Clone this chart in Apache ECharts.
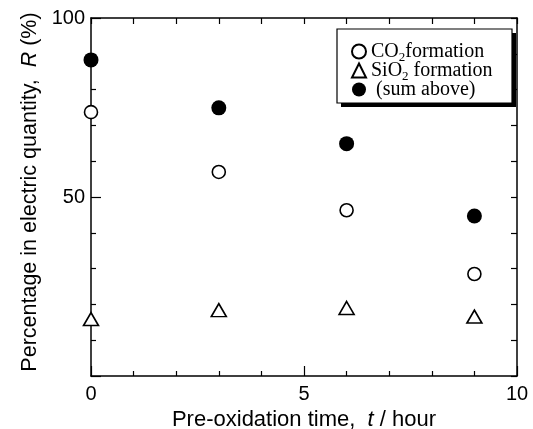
<!DOCTYPE html>
<html>
<head>
<meta charset="utf-8">
<script src="https://cdn.jsdelivr.net/npm/echarts@6/dist/echarts.min.js"></script>
<style>
  html, body { margin: 0; padding: 0; background: #fff; }
  #chart { width: 533px; height: 429px; }
</style>
</head>
<body>
<div id="chart"></div>
<script>
// pre-oxidation time (hour)
var times = [0, 3, 6, 9];
// percentage in electric quantity R (%)
var co2Values = [73.7, 57.0, 46.3, 28.5];
var sio2Values = [15.9, 18.4, 19.0, 16.6];
var sumValues = [88.3, 74.9, 64.9, 44.7];

var legendNames = ['CO2 formation', 'SiO2 formation', '(sum above)'];
var xLabels = ['0', '5', '10'];
var yLabels = ['50', '100'];

function pairs(xs, ys) {
    return xs.map(function (x, i) { return [x, ys[i]]; });
}

var chart = echarts.init(document.getElementById('chart'));
var sansFont = '"Liberation Sans", Arial, sans-serif';
var serifFont = '"Liberation Serif", "Times New Roman", serif';

var option = {
    animation: false,
    backgroundColor: '#fff',
    grid: { left: 91, right: 16, top: 18, bottom: 53, outerBoundsMode: 'none', containLabel: false },
    // legend frame with its drop shadow
    graphic: [{
        type: 'rect', z: 10,
        shape: { x: 341, y: 33, width: 175, height: 74 },
        style: { fill: '#000' }
    }, {
        type: 'rect', z: 11,
        shape: { x: 337, y: 29, width: 175, height: 74 },
        style: { fill: '#fff', stroke: '#000', lineWidth: 1.2 }
    }],
    legend: {
        orient: 'vertical',
        left: 351,
        top: 39,
        z: 20,
        data: legendNames,
        itemWidth: 14,
        itemHeight: 14,
        itemGap: -6,
        padding: 0,
        formatter: function (name) {
            // every row carries a sub token so all rows get the same height
            if (name === legendNames[0]) return '{t|CO}{sub|2}{t|formation}';
            if (name === legendNames[1]) return '{t|SiO}{sub|2}{t| formation}';
            return '{t| (sum above)}{sub| }';
        },
        textStyle: {
            fontFamily: serifFont,
            fontSize: 20,
            lineHeight: 19,
            color: '#000',
            rich: {
                t: { fontFamily: serifFont, fontSize: 20, lineHeight: 19, color: '#000' },
                sub: { fontFamily: serifFont, fontSize: 13, lineHeight: 6, padding: [12, 0, 0, 0], color: '#000' }
            }
        }
    },
    xAxis: [{
        type: 'value',
        min: 0, max: 10, interval: 5,
        name: 'Pre-oxidation time,  {it|t} / hour',
        nameLocation: 'middle',
        nameGap: 33,
        nameTextStyle: {
            fontFamily: sansFont, fontSize: 22, color: '#000',
            rich: { it: { fontFamily: sansFont, fontSize: 22, fontStyle: 'italic' } }
        },
        axisLine: { onZero: false, lineStyle: { color: '#000', width: 1.5 } },
        axisTick: { inside: true, length: 10, lineStyle: { color: '#000', width: 1.2 } },
        minorTick: { show: true, splitNumber: 5, length: 5, lineStyle: { color: '#000', width: 1.2 } },
        splitLine: { show: false },
        axisLabel: {
            fontFamily: sansFont, fontSize: 20, color: '#000', margin: 8,
            formatter: function (v) { return xLabels.indexOf(String(v)) >= 0 ? String(v) : ''; }
        }
    }, {
        type: 'value',
        position: 'top',
        min: 0, max: 10, interval: 1,
        axisLine: { show: true, onZero: false, lineStyle: { color: '#000', width: 1.5 } },
        axisTick: { show: true, inside: true, length: 6, lineStyle: { color: '#000', width: 1.2 } },
        axisLabel: { show: false },
        splitLine: { show: false }
    }],
    yAxis: [{
        type: 'value',
        min: 0, max: 100, interval: 50,
        name: 'Percentage in electric quantity,  {it|R} (%)',
        nameLocation: 'middle',
        nameGap: 46,
        nameTextStyle: {
            fontFamily: sansFont, fontSize: 21.5, color: '#000', padding: [0, 0, 0, 10],
            rich: { it: { fontFamily: sansFont, fontSize: 21.5, fontStyle: 'italic' } }
        },
        axisLine: { show: true, onZero: false, lineStyle: { color: '#000', width: 1.5 } },
        axisTick: { show: true, inside: true, length: 10, lineStyle: { color: '#000', width: 1.2 } },
        minorTick: { show: true, splitNumber: 5, length: 5, lineStyle: { color: '#000', width: 1.2 } },
        splitLine: { show: false },
        axisLabel: {
            fontFamily: sansFont, fontSize: 20, color: '#000', margin: 6,
            formatter: function (v) { return yLabels.indexOf(String(v)) >= 0 ? String(v) : ''; }
        }
    }, {
        type: 'value',
        position: 'right',
        min: 0, max: 100, interval: 10,
        axisLine: { show: true, onZero: false, lineStyle: { color: '#000', width: 1.5 } },
        axisTick: { show: true, inside: true, length: 6, lineStyle: { color: '#000', width: 1.2 } },
        axisLabel: { show: false },
        splitLine: { show: false }
    }],
    series: [{
        name: legendNames[0],
        type: 'scatter',
        clip: false,
        symbol: 'circle',
        symbolSize: 13,
        itemStyle: { color: '#fff', borderColor: '#000', borderWidth: 1.6, opacity: 1 },
        data: pairs(times, co2Values)
    }, {
        name: legendNames[1],
        type: 'scatter',
        clip: false,
        symbol: 'triangle',
        symbolSize: [15, 13],
        itemStyle: { color: '#fff', borderColor: '#000', borderWidth: 1.6, opacity: 1 },
        data: pairs(times, sio2Values)
    }, {
        name: legendNames[2],
        type: 'scatter',
        clip: false,
        symbol: 'circle',
        symbolSize: 15,
        itemStyle: { color: '#000', opacity: 1 },
        data: pairs(times, sumValues)
    }]
};
chart.setOption(option);
</script>
</body>
</html>
